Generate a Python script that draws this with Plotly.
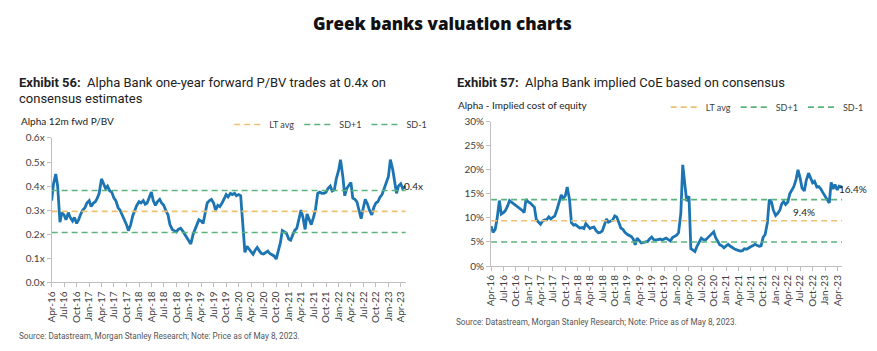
import pandas as pd
import plotly.graph_objects as go

# ---------------- data ----------------
start_date = "2016-04-01"
last_date = "2023-05-08"

# Alpha Bank 12m fwd P/BV (x), semi-monthly readings Apr-16 .. May-23
pbv = [
    0.34, 0.41, 0.45, 0.40, 0.25, 0.29, 0.28, 0.26, 0.29, 0.27,
    0.255, 0.27, 0.245, 0.26, 0.285, 0.30, 0.31, 0.33, 0.34, 0.315,
    0.33, 0.335, 0.35, 0.37, 0.43, 0.41, 0.39, 0.40, 0.38, 0.375,
    0.35, 0.34, 0.31, 0.30, 0.28, 0.26, 0.24, 0.215, 0.24, 0.275,
    0.30, 0.32, 0.335, 0.33, 0.34, 0.325, 0.33, 0.35, 0.375, 0.34,
    0.32, 0.335, 0.345, 0.33, 0.32, 0.30, 0.28, 0.24, 0.22, 0.215,
    0.21, 0.22, 0.225, 0.215, 0.20, 0.19, 0.17, 0.16, 0.20, 0.225,
    0.24, 0.26, 0.255, 0.245, 0.30, 0.33, 0.34, 0.345, 0.33, 0.30,
    0.32, 0.315, 0.33, 0.345, 0.365, 0.355, 0.37, 0.365, 0.37, 0.36,
    0.365, 0.36, 0.25, 0.125, 0.15, 0.14, 0.125, 0.117, 0.135, 0.145,
    0.13, 0.12, 0.118, 0.125, 0.13, 0.12, 0.115, 0.11, 0.097, 0.13,
    0.165, 0.215, 0.21, 0.204, 0.18, 0.175, 0.20, 0.217, 0.225, 0.26,
    0.30, 0.27, 0.22, 0.284, 0.26, 0.24, 0.27, 0.30, 0.37, 0.375,
    0.37, 0.37, 0.375, 0.39, 0.40, 0.38, 0.385, 0.43, 0.465, 0.51,
    0.44, 0.36, 0.39, 0.40, 0.415, 0.35, 0.345, 0.335, 0.30, 0.265,
    0.31, 0.345, 0.325, 0.30, 0.28, 0.31, 0.33, 0.335, 0.355, 0.365,
    0.39, 0.41, 0.44, 0.51, 0.47, 0.42, 0.37, 0.40, 0.41, 0.39,
    0.40,
]
pbv_lt_avg = 0.295
pbv_sd_plus = 0.382
pbv_sd_minus = 0.207

# Alpha Bank implied cost of equity (%), semi-monthly readings Apr-16 .. May-23
coe = [
    8.3, 7.0, 7.6, 9.8, 13.6, 10.8, 11.1, 11.5, 12.5, 13.6,
    13.2, 12.9, 12.5, 12.3, 11.9, 11.6, 11.1, 13.9, 13.3, 13.1,
    12.6, 12.2, 9.6, 9.1, 8.7, 9.3, 9.6, 9.6, 10.2, 9.8,
    10.1, 10.4, 11.8, 13.2, 14.8, 14.0, 14.6, 16.4, 13.8, 9.0,
    8.5, 8.6, 8.1, 7.9, 8.0, 7.8, 8.8, 8.4, 7.8, 8.0,
    8.1, 7.4, 6.9, 7.0, 7.3, 8.4, 9.8, 9.1, 9.3, 9.5,
    10.4, 10.2, 9.0, 7.9, 7.6, 7.0, 6.6, 6.3, 6.1, 5.6,
    4.4, 5.8, 5.2, 4.8, 4.9, 5.0, 5.1, 5.6, 6.0, 5.5,
    5.4, 5.5, 5.6, 5.4, 5.6, 5.8, 5.5, 5.2, 5.9, 6.1,
    6.4, 6.9, 11.0, 21.0, 17.0, 13.5, 14.5, 3.6, 3.3, 3.0,
    4.2, 5.0, 5.8, 5.5, 5.4, 5.8, 6.2, 6.6, 7.1, 5.9,
    4.9, 4.4, 4.2, 3.8, 4.2, 4.5, 4.1, 3.8, 3.6, 3.4,
    3.3, 3.1, 3.2, 3.6, 3.5, 3.8, 4.0, 4.2, 4.5, 4.3,
    4.1, 4.2, 6.0, 6.5, 9.0, 13.8, 13.3, 11.6, 10.5, 10.9,
    11.6, 12.9, 13.4, 12.8, 13.3, 15.0, 16.0, 16.5, 18.0, 20.0,
    18.2, 16.2, 15.6, 17.8, 19.3, 18.4, 17.3, 17.6, 16.4, 16.5,
    16.0, 15.3, 14.5, 13.6, 13.1, 17.4, 16.0, 16.9, 15.8, 16.6,
    16.4,
]
coe_lt_avg = 9.4
coe_sd_plus = 13.8
coe_sd_minus = 5.0

ref_names = ["LT avg", "SD+1", "SD-1"]

main_title = "Greek banks valuation charts"
title_left_1 = "<b>Exhibit 56:</b>  Alpha Bank one-year forward P/BV trades at 0.4x on"
title_left_2 = "consensus estimates"
title_right = "<b>Exhibit 57:</b>  Alpha Bank implied CoE based on consensus"
ylabel_left = "Alpha 12m fwd P/BV"
ylabel_right = "Alpha - Implied cost of equity"
source_text = "Source: Datastream, Morgan Stanley Research; Note: Price as of May 8, 2023."

# ---------------- styling ----------------
W, H = 877, 351
BLUE = "#1C75B2"
GOLD = "#EDC173"
GREEN = "#5BB37C"
AXIS = "#BFBFBF"
TXT = "#404040"
TICKFONT = dict(family="Lato", size=10, color=TXT)

dates = pd.date_range(start_date, periods=len(pbv), freq="SMS")
dates = list(dates[:-1]) + [pd.Timestamp(last_date)]
ref_x = [dates[0], dates[-1]]


def px(x):
    return x / W


def py(y):
    return 1 - y / H


fig = go.Figure()

# left chart
fig.add_trace(go.Scatter(x=dates, y=pbv, mode="lines", showlegend=False,
                         line=dict(color=BLUE, width=2.8), xaxis="x", yaxis="y"))
for name, val, col in zip(ref_names, [pbv_lt_avg, pbv_sd_plus, pbv_sd_minus], [GOLD, GREEN, GREEN]):
    fig.add_trace(go.Scatter(x=ref_x, y=[val, val], mode="lines", name=name,
                             line=dict(color=col, width=1.6, dash="6px,4px"),
                             xaxis="x", yaxis="y", legend="legend"))

# right chart
fig.add_trace(go.Scatter(x=dates, y=coe, mode="lines", showlegend=False,
                         line=dict(color=BLUE, width=2.8), xaxis="x2", yaxis="y2"))
for name, val, col in zip(ref_names, [coe_lt_avg, coe_sd_plus, coe_sd_minus], [GOLD, GREEN, GREEN]):
    fig.add_trace(go.Scatter(x=ref_x, y=[val, val], mode="lines", name=name,
                             line=dict(color=col, width=1.6, dash="6px,4px"),
                             xaxis="x2", yaxis="y2", legend="legend2"))

xaxis_common = dict(
    type="date", range=[start_date, last_date], tick0=start_date, dtick="M3",
    tickformat="%b-%y", tickangle=-90, tickfont=TICKFONT,
    showgrid=False, zeroline=False, showline=True, linecolor=AXIS, linewidth=1,
    ticks="outside", ticklen=4, tickcolor=AXIS,
)
yaxis_common = dict(
    showgrid=False, zeroline=False, showline=True, linecolor=AXIS, linewidth=1,
    ticks="outside", ticklen=4, tickcolor=AXIS, tickfont=TICKFONT,
)

legend_common = dict(
    orientation="h", xanchor="left", yanchor="middle",
    font=dict(family="Lato", size=9, color=TXT), bgcolor="rgba(0,0,0,0)",
    itemwidth=30, tracegroupgap=0,
)

fig.update_layout(
    width=W, height=H, margin=dict(l=0, r=0, t=0, b=0),
    paper_bgcolor="white", plot_bgcolor="white",
    xaxis=dict(xaxis_common, domain=[px(45), px(402)], anchor="y"),
    yaxis=dict(yaxis_common, domain=[py(286), py(136)], range=[0, 0.6], dtick=0.1,
               tickformat=".1f", ticksuffix="x", anchor="x"),
    xaxis2=dict(xaxis_common, domain=[px(488), px(842)], anchor="y2"),
    yaxis2=dict(yaxis_common, domain=[py(269), py(119)], range=[0, 30], dtick=5,
                ticksuffix="%", anchor="x2"),
    legend=dict(legend_common, x=px(224), y=py(122)),
    legend2=dict(legend_common, x=px(664), y=py(104)),
    showlegend=True,
)

annotations = [
    dict(text=main_title, x=0.5, y=py(17), xanchor="center", yanchor="middle",
         font=dict(family="Open Sans", size=17, weight=800, color="#111111")),
    dict(text=title_left_1, x=px(10), y=py(78), xanchor="left", yanchor="middle",
         font=dict(family="Roboto", size=13, color="#222222")),
    dict(text=title_left_2, x=px(10), y=py(95), xanchor="left", yanchor="middle",
         font=dict(family="Roboto", size=13, color="#222222")),
    dict(text=title_right, x=px(452), y=py(78), xanchor="left", yanchor="middle",
         font=dict(family="Roboto", size=13, color="#222222")),
    dict(text=ylabel_left, x=px(12), y=py(118), xanchor="left", yanchor="middle",
         font=dict(family="Lato", size=10, color="#222222")),
    dict(text=ylabel_right, x=px(453), y=py(102), xanchor="left", yanchor="middle",
         font=dict(family="Lato", size=10, color="#222222")),
    dict(text=source_text, x=px(10), y=py(342), xanchor="left", yanchor="middle",
         font=dict(family="Roboto", size=8.2, color="#555555")),
    dict(text=source_text, x=px(451), y=py(327), xanchor="left", yanchor="middle",
         font=dict(family="Roboto", size=8.2, color="#555555")),
]
for a in annotations:
    a.update(xref="paper", yref="paper", showarrow=False)

# value labels attached to the data
annotations += [
    dict(text=f"{pbv[-1]:.1f}x", x=dates[-1], y=pbv[-1], xref="x", yref="y",
         xanchor="left", yanchor="middle", showarrow=False, xshift=-4,
         font=dict(family="Lato", size=10, color="#222222")),
    dict(text=f"{coe[-1]:.1f}%", x=dates[-1], y=coe[-1], xref="x2", yref="y2",
         xanchor="left", yanchor="middle", showarrow=False, xshift=-5, yshift=-2,
         font=dict(family="Lato", size=10, color="#222222")),
    dict(text=f"{coe_lt_avg:.1f}%", x="2022-08-01", y=coe_lt_avg, xref="x2", yref="y2",
         xanchor="center", yanchor="bottom", showarrow=False, yshift=1,
         font=dict(family="Lato", size=10, color="#222222")),
]
fig.update_layout(annotations=annotations)

fig.write_html("out.html")
